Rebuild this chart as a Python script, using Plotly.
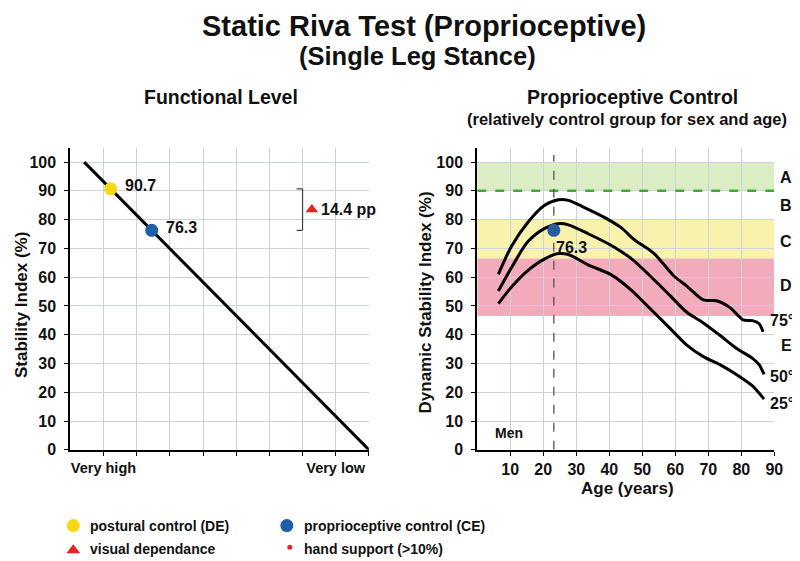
import plotly.graph_objects as go
import numpy as np

# ---------------- data ----------------
# Left panel: functional level line (Very high -> Very low)
functional_x = [0.42, 9.0]
functional_y = [100, 0]
level_ticks = [1, 2, 3, 4, 5, 6, 7, 8, 9]
level_ticktext = ["Very high", "", "", "", "", "", "", "Very low", ""]
stability_ticks = [0, 10, 20, 30, 40, 50, 60, 70, 80, 90, 100]

postural_value = 90.7      # DE
proprio_value = 76.3       # CE
visual_dep = round(postural_value - proprio_value, 1)

# Right panel: percentile curves (age, value)
age_75 = [6.4, 10.3, 15.3, 20.3, 24.6, 27.6, 32.5, 38.5, 43.5, 47.6, 53.5, 59.6, 63.5, 68.5, 72.5, 76.5, 80.5, 83.4, 85.4, 86.6]
val_75 = [61.0, 70.6, 79.0, 84.9, 86.9, 86.7, 84.2, 80.8, 77.3, 73.0, 68.3, 60.4, 56.9, 52.1, 51.8, 49.5, 45.2, 44.9, 43.8, 41.0]
age_50 = [6.4, 10.3, 15.3, 20.3, 24.6, 27.6, 33.6, 40.5, 46.5, 53.5, 58.5, 63.5, 68.5, 73.5, 78.5, 83.4, 85.4, 86.9]
val_50 = [55.2, 63.2, 72.3, 76.9, 78.6, 78.2, 75.1, 71.1, 66.6, 59.2, 53.5, 47.8, 44.1, 39.8, 35.3, 31.8, 29.6, 26.2]
age_25 = [6.4, 10.3, 15.3, 20.3, 24.6, 27.6, 33.6, 40.5, 46.5, 50.5, 53.5, 58.5, 63.5, 68.5, 73.5, 78.5, 83.4, 86.9]
val_25 = [50.8, 56.5, 62.3, 66.3, 68.2, 67.9, 64.3, 60.9, 55.7, 51.2, 47.8, 42.1, 36.4, 32.4, 29.6, 26.2, 22.2, 17.6]
age_ticks = [10, 20, 30, 40, 50, 60, 70, 80, 90]
patient_age = 23.2

band_A = [90, 100]
band_C = [66.5, 80]
band_D = [46.5, 66.5]
zone_letters = ["A", "B", "C", "D", "E"]
zone_y = [94.5, 84.9, 72.5, 57.0, 36.4]
pct_labels = ["75°", "50°", "25°"]
pct_label_y = [45.0, 25.6, 16.1]

legend_labels = ["postural control (DE)", "proprioceptive control (CE)", "visual dependance", "hand support (>10%)"]

# ---------------- styling ----------------
W, H = 800, 561
BOLD = "Liberation Sans, Arial, sans-serif"
GRID = "#c9d3de"
YELLOW = "#f7d716"
BLUE = "#1f5ea8"
RED = "#e8231f"
TXT = "#111111"


def px(x):
    return x / W


def py(y):
    return 1 - y / H


def bfont(size):
    return dict(family=BOLD, size=size, color=TXT, weight="bold")


def paper_text(text, x, y, size, angle=0, xanchor="center", yanchor="middle"):
    fig.add_annotation(x=px(x), y=py(y), xref="paper", yref="paper", text=text,
                       showarrow=False, xanchor=xanchor, yanchor=yanchor,
                       textangle=angle, font=bfont(size))


fig = go.Figure()

# ---- left panel ----
fig.add_trace(go.Scatter(x=functional_x, y=functional_y, mode="lines",
                         line=dict(color="black", width=3), xaxis="x", yaxis="y",
                         showlegend=False, hoverinfo="skip"))
pt_vals = [postural_value, proprio_value]
pt_x = list(np.interp(pt_vals, functional_y[::-1], functional_x[::-1]))
fig.add_trace(go.Scatter(x=pt_x, y=pt_vals, mode="markers",
                         marker=dict(color=[YELLOW, BLUE], size=13, opacity=1, line=dict(width=0)),
                         xaxis="x", yaxis="y", showlegend=False))
for xv, yv in zip(pt_x, pt_vals):
    fig.add_annotation(x=xv, y=yv, xref="x", yref="y", text=f"{yv:.1f}",
                       showarrow=False, xanchor="left", yanchor="middle", xshift=12, yshift=3,
                       font=bfont(16))

# bracket for visual dependance
bx = 7.0
fig.add_shape(type="line", xref="x", yref="y", x0=bx, x1=bx, y0=proprio_value, y1=postural_value,
              line=dict(color="#444", width=1.2))
for yv in [proprio_value, postural_value]:
    fig.add_shape(type="line", xref="x", yref="y", x0=bx - 0.18, x1=bx, y0=yv, y1=yv,
                  line=dict(color="#444", width=1.2))
mid = (postural_value + proprio_value) / 2
fig.add_trace(go.Scatter(x=[bx + 0.28], y=[mid], mode="markers",
                         marker=dict(symbol="triangle-up", color=RED, size=11, opacity=1, line=dict(width=0)),
                         xaxis="x", yaxis="y", showlegend=False))
fig.add_annotation(x=bx + 0.5, y=mid, xref="x", yref="y", text=f"{visual_dep:.1f} pp",
                   showarrow=False, xanchor="left", yanchor="middle", font=bfont(16))

# ---- right panel ----
fig.add_shape(type="rect", xref="x2", yref="y2", x0=0, x1=90, y0=band_A[0], y1=band_A[1],
              fillcolor="#dcedc4", line=dict(width=0), layer="below")
fig.add_shape(type="rect", xref="x2", yref="y2", x0=0, x1=90, y0=band_C[0], y1=band_C[1],
              fillcolor="#f8f2ad", line=dict(width=0), layer="below")
fig.add_shape(type="rect", xref="x2", yref="y2", x0=0, x1=90, y0=band_D[0], y1=band_D[1],
              fillcolor="#f2abba", line=dict(width=0), layer="below")
fig.add_shape(type="line", xref="x2", yref="y2", x0=0, x1=90, y0=band_A[0], y1=band_A[0],
              line=dict(color="#3aab3a", width=2.5, dash="dash"))
fig.add_shape(type="line", xref="x2", yref="y2", x0=patient_age, x1=patient_age, y0=0, y1=102.5,
              line=dict(color="#555", width=1.3, dash="dash"))

for ax_, vy in [(age_75, val_75), (age_50, val_50), (age_25, val_25)]:
    fig.add_trace(go.Scatter(x=ax_, y=vy, mode="lines",
                             line=dict(color="black", width=3, shape="spline", smoothing=0.8),
                             xaxis="x2", yaxis="y2", showlegend=False, hoverinfo="skip"))

fig.add_trace(go.Scatter(x=[patient_age], y=[proprio_value], mode="markers",
                         marker=dict(color=BLUE, size=13, opacity=1, line=dict(width=0)),
                         xaxis="x2", yaxis="y2", showlegend=False))
fig.add_annotation(x=patient_age, y=proprio_value, xref="x2", yref="y2", text=f"{proprio_value:.1f}",
                   showarrow=False, xanchor="left", yanchor="middle", xshift=0, yshift=-17,
                   font=bfont(16))

for t, yv in zip(zone_letters, zone_y):
    fig.add_annotation(x=px(787), y=yv, xref="paper", yref="y2", text=t, showarrow=False,
                       xanchor="center", yanchor="middle", font=bfont(16))
for t, yv in zip(pct_labels, pct_label_y):
    fig.add_annotation(x=px(783), y=yv, xref="paper", yref="y2", text=t, showarrow=False,
                       xanchor="center", yanchor="middle", font=bfont(16))
fig.add_annotation(x=9.7, y=5.8, xref="x2", yref="y2", text="Men", showarrow=False,
                   xanchor="center", yanchor="middle", font=bfont(14))

# ---- legend drawn on a hidden axis ----
leg_x = [66, 282, 66, 285]
leg_y = [526, 526, 551, 548]
leg_sym = ["circle", "circle", "triangle-up", "circle"]
leg_col = [YELLOW, BLUE, RED, RED]
leg_size = [13, 13, 12, 5]
fig.add_trace(go.Scatter(x=[px(v) for v in leg_x], y=[py(v) for v in leg_y], mode="markers",
                         marker=dict(symbol=leg_sym, color=leg_col, size=leg_size, opacity=1,
                                     line=dict(width=0)),
                         opacity=1, xaxis="x3", yaxis="y3", showlegend=False, hoverinfo="skip"))

# ---- titles ----
paper_text("Static Riva Test (Proprioceptive)", 421, 0, 29, yanchor="top")
paper_text("(Single Leg Stance)", 414, 33, 25.5, yanchor="top")
paper_text("Functional Level", 215, 90, 19.5)
paper_text("Proprioceptive Control", 632, 90, 19.5)
paper_text("(relatively control group for sex and age)", 626, 113, 16.5)
paper_text("Stability Index (%)", 13, 302, 17, angle=-90)
paper_text("Dynamic Stability Index (%)", 422, 299, 17, angle=-90)
paper_text("Age (years)", 627, 488, 17)
for t, xv, yv in zip(legend_labels, [81, 297, 81, 297], [526, 526, 550, 550]):
    paper_text(t, xv, yv, 14, xanchor="left")

ydom = [py(449), py(142)]
common_axis = dict(showline=True, linecolor="black", linewidth=2, ticks="outside", ticklen=4,
                   tickcolor="black", tickwidth=1, showgrid=True, gridcolor=GRID, gridwidth=1,
                   zeroline=False)

fig.update_layout(
    width=W, height=H, autosize=False,
    margin=dict(l=0, r=0, t=0, b=0),
    paper_bgcolor="white", plot_bgcolor="rgba(0,0,0,0)",
    showlegend=False,
    xaxis=dict(domain=[px(63), px(365)], range=[0, 9], tickvals=level_ticks, ticktext=level_ticktext,
               anchor="y", tickfont=bfont(14.5), **common_axis),
    yaxis=dict(domain=ydom, range=[0, 105], tickvals=stability_ticks, anchor="x",
               tickfont=bfont(16), ticklabelstandoff=5, **common_axis),
    xaxis2=dict(domain=[px(474.6), px(775)], range=[0, 90], tickvals=age_ticks, anchor="y2",
                tickfont=bfont(16), **common_axis),
    yaxis2=dict(domain=ydom, range=[0, 105], tickvals=stability_ticks, anchor="x2",
                tickfont=bfont(16), ticklabelstandoff=5, **common_axis),
    xaxis3=dict(domain=[0, 0.7], range=[0, 0.7], visible=False, anchor="y3", fixedrange=True),
    yaxis3=dict(domain=[0, 0.12], range=[0, 0.12], visible=False, anchor="x3", fixedrange=True),
)

fig.write_html("out.html")
